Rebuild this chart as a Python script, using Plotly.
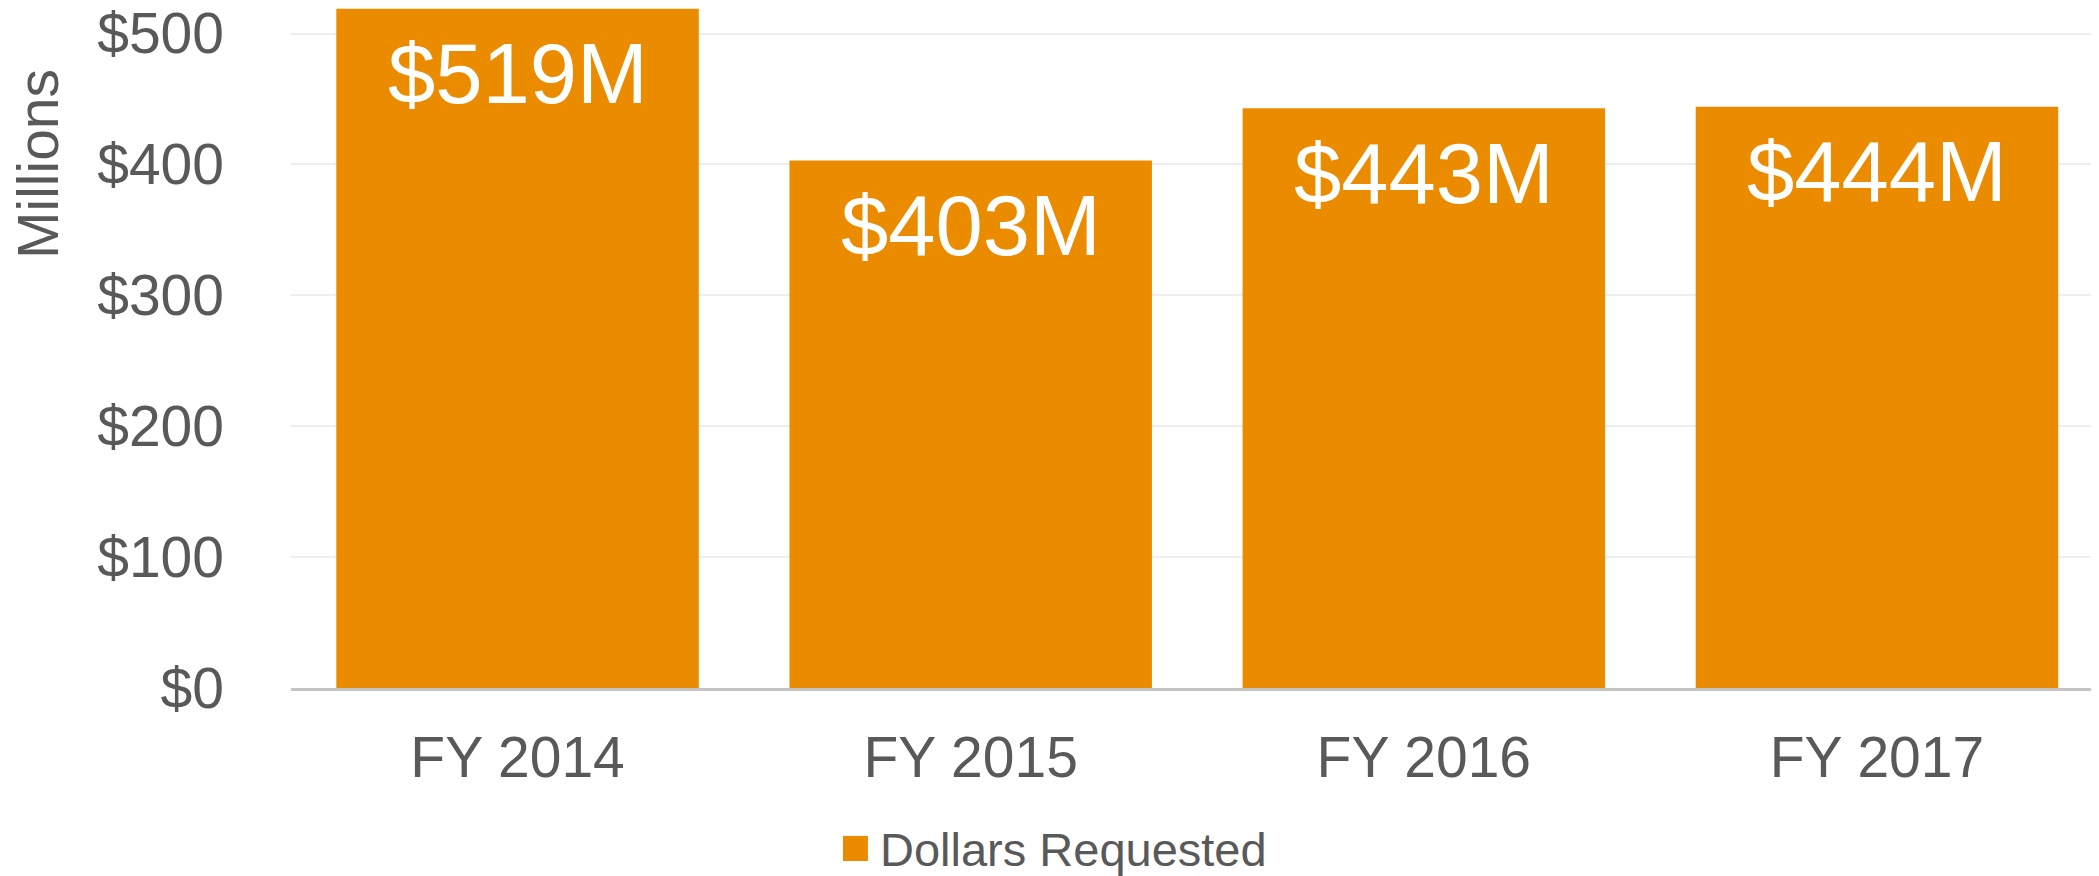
import plotly.graph_objects as go

categories = ["FY 2014", "FY 2015", "FY 2016", "FY 2017"]
dollars_requested = [519, 403, 443, 444]
value_labels = ["$519M", "$403M", "$443M", "$444M"]
series_name = "Dollars Requested"
y_title = "Millions"

ORANGE = "#EB8C00"
GREY = "#595959"
FONT = "Liberation Sans, Arial, sans-serif"

fig = go.Figure()
fig.add_trace(go.Bar(
    x=categories,
    y=dollars_requested,
    name=series_name,
    marker=dict(color=ORANGE, line=dict(width=0)),
    showlegend=False,
    hoverinfo="x+y",
))

# data labels inside the top of each bar
for c, v, t in zip(categories, dollars_requested, value_labels):
    fig.add_annotation(
        x=c, y=v, xref="x", yref="y", text=t, showarrow=False,
        yanchor="middle", xanchor="center", yshift=-65,
        font=dict(family=FONT, size=85, color="white"),
    )

# y-axis title
fig.add_annotation(
    xref="paper", yref="paper", x=0, y=0.7706, xshift=-253,
    text=y_title, textangle=-90, showarrow=False,
    xanchor="center", yanchor="middle",
    font=dict(family=FONT, size=57, color=GREY),
)

# legend (swatch + label)
fig.add_shape(
    type="rect", xref="paper", yref="paper",
    x0=0.3053, x1=0.3191, y0=-0.2544, y1=-0.2176,
    fillcolor=ORANGE, line=dict(width=0),
)
fig.add_annotation(
    xref="paper", yref="paper", x=0.3245, y=-0.2368,
    text=series_name, showarrow=False, xanchor="left", yanchor="middle",
    font=dict(family=FONT, size=47, color=GREY),
)

fig.update_layout(
    width=2091, height=868,
    margin=dict(l=283, r=0, t=0, b=188),
    paper_bgcolor="white", plot_bgcolor="white",
    bargap=0.2,
    font=dict(family=FONT, color=GREY),
    showlegend=False,
)
fig.update_xaxes(
    range=[-0.5, 3.49],
    automargin=False,
    showline=True, linecolor="#C4C4C4", linewidth=3,
    showgrid=False, ticks="",
    tickfont=dict(family=FONT, size=57, color=GREY),
    ticklabelstandoff=18,
)
fig.update_yaxes(
    range=[0, 519.5],
    automargin=False,
    tickmode="linear", tick0=0, dtick=100, tickprefix="$",
    showgrid=True, gridcolor="#EEEEEE", gridwidth=2,
    zeroline=False, showline=False, ticks="",
    tickfont=dict(family=FONT, size=57, color=GREY),
    ticklabelstandoff=66,
    ticklabeloverflow="allow",
)

fig.write_html("out.html")
